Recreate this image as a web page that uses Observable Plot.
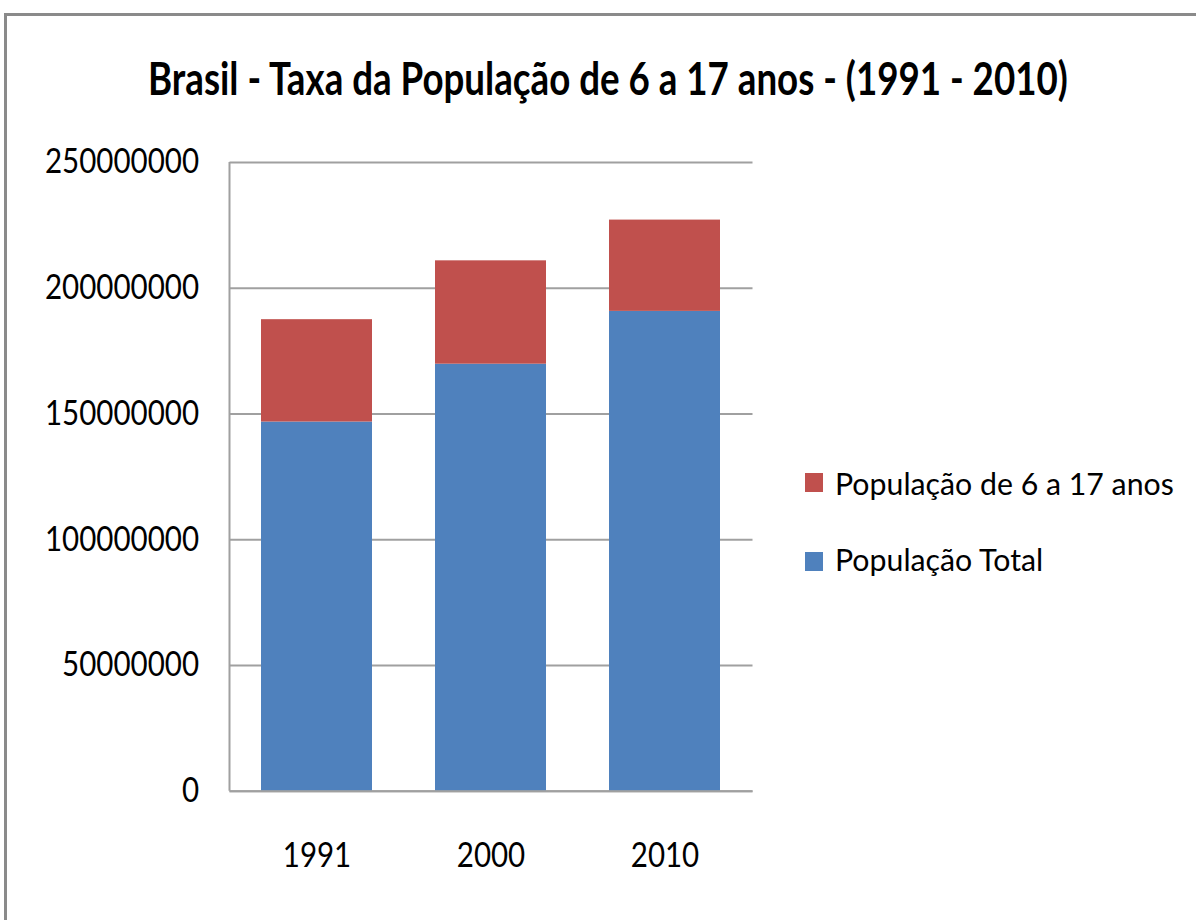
<!DOCTYPE html>
<html>
<head>
<meta charset="utf-8">
<script src="https://cdn.jsdelivr.net/npm/d3@7"></script>
<script src="https://cdn.jsdelivr.net/npm/@observablehq/plot@0.6"></script>
<style>
  html, body { margin: 0; padding: 0; background: #fff; overflow: hidden; }
  #wrap { position: relative; width: 1196px; height: 920px; overflow: hidden; font-family: Lato, "Open Sans", sans-serif; color: #000; }
  #border { position: absolute; left: 4px; top: 13px; width: 1400px; height: 1200px; border-left: 3px solid #8a8a8a; border-top: 3px solid #8a8a8a; }
  #title { position: absolute; left: 148px; top: 55px; height: 65px; font-size: 46px; line-height: 46px; font-weight: bold; white-space: nowrap; transform-origin: 0 0; }
  #chart { position: absolute; left: 0; top: 120px; }
  .sw { position: absolute; width: 18px; height: 19px; }
  .lab { position: absolute; font-size: 30px; line-height: 30px; white-space: nowrap; transform-origin: 0 0; }
</style>
</head>
<body>
<div id="wrap">
  <div id="border"></div>
  <div id="title">Brasil - Taxa da População de 6 a 17 anos - (1991 - 2010)</div>
  <div id="chart"></div>
  <div id="legend"></div>
</div>
<script>
// ---- data ----
const years = ["1991", "2000", "2010"];
const seriesNames = ["População de 6 a 17 anos", "População Total"];
const seriesColors = ["#C0504D", "#4F81BD"];
const totalPop = [146800000, 169800000, 190800000];
const youthPop = [40700000, 41100000, 36300000];
const yTicks = [0, 50000000, 100000000, 150000000, 200000000, 250000000];

// stacked rows: total at the bottom, youth on top
const rows = [];
years.forEach((yr, i) => {
  rows.push({year: yr, series: seriesNames[1], value: totalPop[i]});
  rows.push({year: yr, series: seriesNames[0], value: youthPop[i]});
});

const chart = Plot.plot({
  width: 1196,
  height: 800,
  marginLeft: 229.5,
  marginRight: 443.5,
  marginTop: 42,
  marginBottom: 129.3,
  style: {fontFamily: "Lato, 'Open Sans', sans-serif", fontSize: "34px", color: "#000", background: "transparent", overflow: "visible"},
  x: {domain: years, paddingInner: 0.36, paddingOuter: 0.18, label: null},
  y: {domain: [0, 250000000], label: null},
  color: {domain: seriesNames, range: seriesColors},
  marks: [
    Plot.gridY(yTicks, {stroke: "#a0a0a0", strokeOpacity: 1, strokeWidth: 2}),
    Plot.barY(rows, {x: "year", y: "value", fill: "series"}),
    Plot.ruleY([0], {stroke: "#a0a0a0", strokeWidth: 2}),
    Plot.axisY({ticks: yTicks, tickSize: 0, tickPadding: 31, tickFormat: d => String(d), fontSize: 34, label: null}),
    Plot.axisX({tickSize: 0, tickPadding: 52, fontSize: 34, label: null})
  ]
});
document.getElementById("chart").appendChild(chart);

// left axis line, placed from the plot's own scales
const xs = chart.scale("x"), ys = chart.scale("y");
d3.select(chart).append("line")
  .attr("x1", xs.range[0]).attr("x2", xs.range[0])
  .attr("y1", ys.apply(0)).attr("y2", ys.apply(250000000))
  .attr("stroke", "#a0a0a0").attr("stroke-width", 2);

// condense tick labels to mimic the narrow original face
const texts = Array.from(chart.querySelectorAll("text"));
let longest = texts.reduce((a, t) => (t.getComputedTextLength() > a ? t.getComputedTextLength() : a), 0);
const tickFactor = 154 / longest;
texts.forEach(t => {
  const len = t.getComputedTextLength();
  t.setAttribute("textLength", len * tickFactor);
  t.setAttribute("lengthAdjust", "spacingAndGlyphs");
});

// title: stretch to original width
const title = document.getElementById("title");
title.style.transform = `scaleX(${920 / title.scrollWidth})`;

// legend
const legend = document.getElementById("legend");
let labFactor = null;
seriesNames.forEach((name, i) => {
  const sw = document.createElement("div");
  sw.className = "sw";
  sw.style.left = "805px";
  sw.style.top = (473 + i * 79) + "px";
  sw.style.background = seriesColors[i];
  legend.appendChild(sw);
  const lab = document.createElement("div");
  lab.className = "lab";
  lab.textContent = name;
  lab.style.left = "835px";
  lab.style.top = (468.4 + i * 76) + "px";
  legend.appendChild(lab);
  if (labFactor === null) labFactor = 339 / lab.scrollWidth;
  lab.style.transform = `scaleX(${labFactor})`;
});
</script>
</body>
</html>
